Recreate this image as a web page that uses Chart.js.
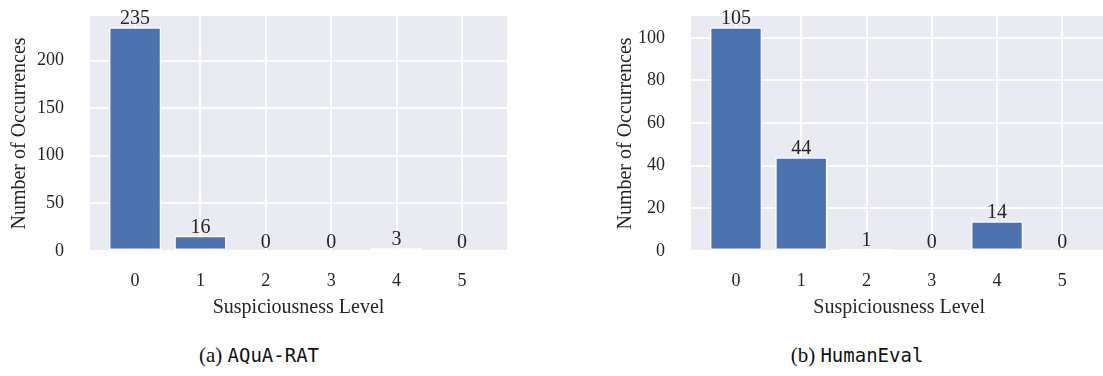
<!DOCTYPE html>
<html>
<head>
<meta charset="utf-8">
<script src="https://cdn.jsdelivr.net/npm/chart.js@4/dist/chart.umd.min.js"></script>
<style>
  html, body { margin: 0; padding: 0; background: #fff; overflow: hidden; width: 1103px; height: 376px; position: relative; }
  .box { position: absolute; top: 0; height: 330px; }
  #boxA { left: 0; width: 551px; }
  #boxB { left: 551px; width: 560px; }
  .cap { position: absolute; top: 343px; line-height: 24px; font-family: "Liberation Serif", serif; font-size: 21px; color: #111; white-space: nowrap; transform: translateX(-50%); }
  .cap span { font-family: "DejaVu Sans Mono", monospace; font-size: 19px; }
</style>
</head>
<body>
<div class="box" id="boxA"><canvas id="chartA"></canvas></div>
<div class="box" id="boxB"><canvas id="chartB"></canvas></div>
<div class="cap" style="left:259px">(a) <span>AQuA-RAT</span></div>
<div class="cap" style="left:857px">(b) <span>HumanEval</span></div>
<script>
// data
const levels = [0, 1, 2, 3, 4, 5];
const aquaCounts = [235, 16, 0, 0, 3, 0];
const humanEvalCounts = [105, 44, 1, 0, 14, 0];
const aquaTicks = [0, 50, 100, 150, 200];
const humanEvalTicks = [0, 20, 40, 60, 80, 100];

const textColor = '#262626';
Chart.defaults.font.family = '"Liberation Serif", serif';
Chart.defaults.color = textColor;

// seaborn-ish grey panel behind the grid
const panelBg = {
  id: 'panelBg',
  beforeDraw(chart) {
    const a = chart.chartArea, ctx = chart.ctx;
    ctx.save();
    ctx.fillStyle = '#EAEAF2';
    ctx.fillRect(a.left, a.top, a.right - a.left, a.bottom - a.top);
    ctx.restore();
  }
};

// counts written above each bar
const barLabels = {
  id: 'barLabels',
  afterDatasetsDraw(chart) {
    const ctx = chart.ctx;
    const meta = chart.getDatasetMeta(0);
    const vals = chart.data.datasets[0].data;
    ctx.save();
    ctx.font = '20px "Liberation Serif", serif';
    ctx.fillStyle = textColor;
    ctx.textAlign = 'center';
    ctx.textBaseline = 'alphabetic';
    meta.data.forEach((bar, i) => {
      ctx.fillText(String(vals[i].y), bar.x, bar.y - 3);
    });
    ctx.restore();
  }
};

function makeChart(id, counts, yTicks, yWidth, titlePad, padRight) {
  const ymax = Math.max(...counts) * 1.05;
  return new Chart(document.getElementById(id), {
    type: 'bar',
    data: {
      datasets: [{
        data: levels.map((l, i) => ({ x: l, y: counts[i] })),
        backgroundColor: '#4C72B0',
        borderColor: '#ffffff',
        borderWidth: 1.5,
        borderSkipped: false,
        barPercentage: 0.8,
        categoryPercentage: 1.0
      }]
    },
    options: {
      responsive: true,
      maintainAspectRatio: false,
      animation: false,
      layout: { padding: { left: 0, right: padRight, top: 16, bottom: 0 } },
      plugins: { legend: { display: false }, tooltip: { enabled: false } },
      scales: {
        x: {
          type: 'linear',
          offset: false,
          min: -0.69,
          max: 5.69,
          afterBuildTicks: s => { s.ticks = levels.map(v => ({ value: v })); },
          afterFit: s => { s.height = 79; s.paddingLeft = 0; s.paddingRight = 0; },
          ticks: { padding: 19, font: { size: 18 }, color: textColor },
          grid: { color: '#ffffff', lineWidth: 2, drawTicks: false, offset: false },
          border: { display: false },
          title: { display: true, text: 'Suspiciousness Level', font: { size: 20 }, color: textColor, padding: { top: 0, bottom: 10 } }
        },
        y: {
          min: 0,
          max: ymax,
          afterBuildTicks: s => { s.ticks = yTicks.map(v => ({ value: v })); },
          afterFit: s => { s.width = yWidth; s.paddingTop = 0; s.paddingBottom = 0; },
          ticks: { padding: 26, font: { size: 18 }, color: textColor },
          grid: { color: '#ffffff', lineWidth: 2, drawTicks: false },
          border: { display: false },
          title: { display: true, text: 'Number of Occurrences', font: { size: 20 }, color: textColor, padding: { top: titlePad, bottom: 0 } }
        }
      }
    },
    plugins: [panelBg, barLabels]
  });
}

makeChart('chartA', aquaCounts, aquaTicks, 90, 8, 44);
makeChart('chartB', humanEvalCounts, humanEvalTicks, 140, 63, 3.6);
</script>
</body>
</html>
